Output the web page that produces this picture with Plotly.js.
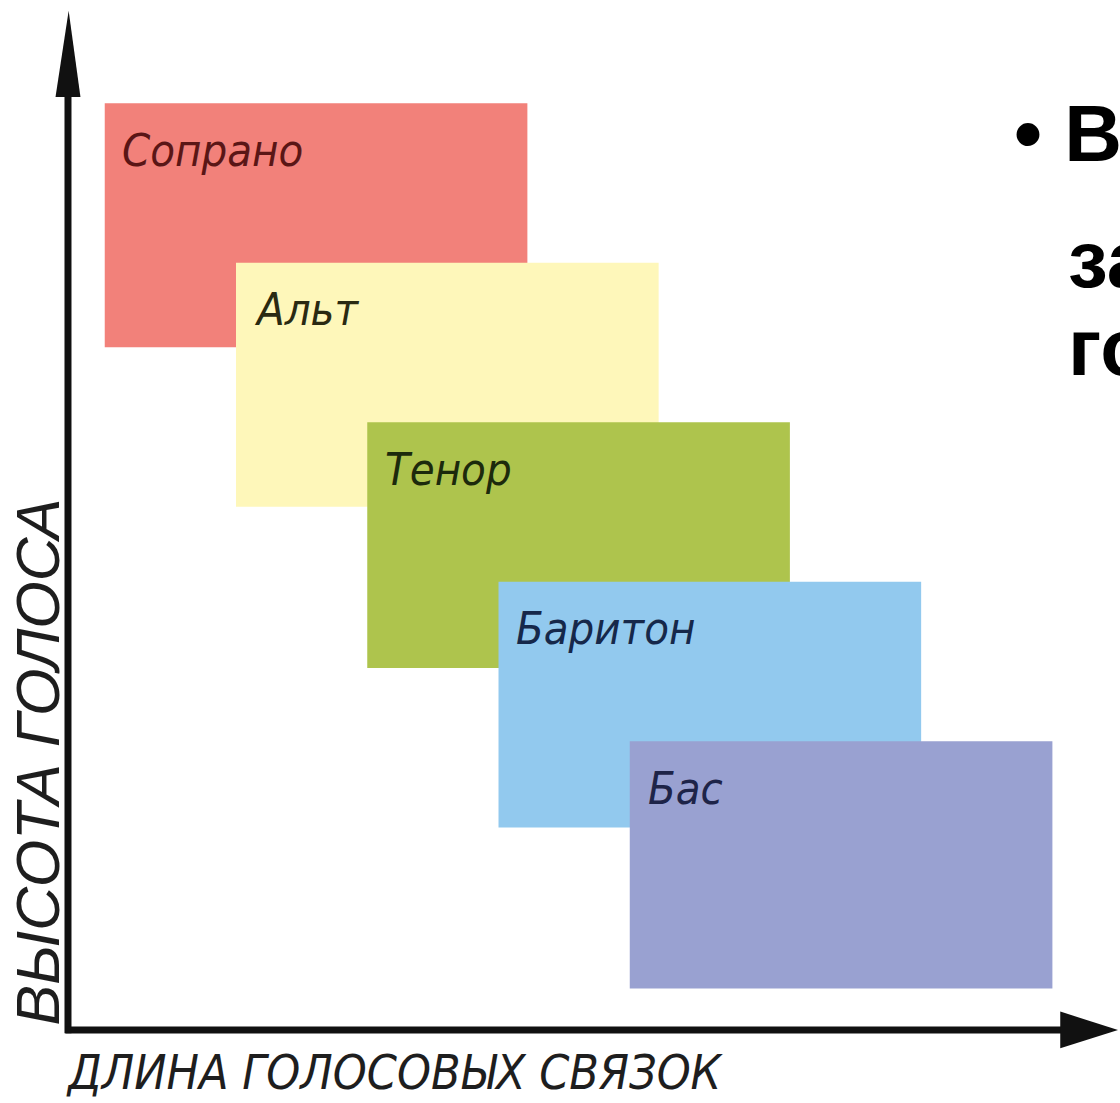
<!DOCTYPE html>
<html>
<head>
<meta charset="utf-8">
<script src="https://cdn.plot.ly/plotly-3.0.1.min.js"></script>
<style>html,body{margin:0;padding:0;background:#fff;overflow:hidden}#chart{width:1120px;height:1103px}</style>
</head>
<body>
<div id="chart"></div>
<script>
// Voice types (categories) and their ranges: x = vocal cord length, y = voice pitch (relative units)
const voices   = ['Сопрано', 'Альт', 'Тенор', 'Баритон', 'Бас'];
const lenStart = [0.28, 1.28, 2.28, 3.28, 4.28];
const lenEnd   = [3.50, 4.50, 5.50, 6.50, 7.50];
const pitchLow = [4.28, 3.28, 2.27, 1.27, 0.26];
const pitchHigh= [5.81, 4.81, 3.81, 2.81, 1.81];
const fillColors  = ['#F2817A', '#FEF7BA', '#AEC44D', '#92C9EE', '#99A1D1'];
const labelColors = ['#5a1616', '#2a2a12', '#1c2a0c', '#16284a', '#1e2448'];
const xTitle = 'ДЛИНА ГОЛОСОВЫХ СВЯЗОК';
const yTitle = 'ВЫСОТА ГОЛОСА';
const sideText = ['• В', 'за', 'го'];

const narrow = 'Liberation Sans Narrow, DejaVu Sans Condensed, Arial Narrow, sans-serif';

const traces = voices.map((v, i) => ({
  type: 'scatter', mode: 'lines', name: v,
  x: [lenStart[i], lenEnd[i], lenEnd[i], lenStart[i], lenStart[i]],
  y: [pitchLow[i], pitchLow[i], pitchHigh[i], pitchHigh[i], pitchLow[i]],
  fill: 'toself', fillcolor: fillColors[i],
  line: {width: 0, color: fillColors[i]},
  hoverinfo: 'skip', showlegend: false
}));

const annotations = voices.map((v, i) => ({
  x: lenStart[i] + 0.12, y: pitchHigh[i] - 0.295,
  xref: 'x', yref: 'y', xanchor: 'left', yanchor: 'middle',
  text: v, showarrow: false,
  font: {family: narrow, size: 45, color: labelColors[i], style: 'italic'}
}));

annotations.push({
  x: 2.49, y: -0.263, xref: 'x', yref: 'y', xanchor: 'center', yanchor: 'middle',
  text: xTitle, showarrow: false,
  font: {family: narrow, size: 48, color: '#1e1e1e', style: 'italic'}
});
annotations.push({
  x: -0.225, y: 1.68, xref: 'x', yref: 'y', xanchor: 'center', yanchor: 'middle',
  text: yTitle, showarrow: false, textangle: -90,
  font: {family: 'Liberation Sans, Arial, sans-serif', size: 61, color: '#1e1e1e', style: 'italic'}
});
const sideX = [7.19, 7.6, 7.6];
const sideY = [5.62, 4.83, 4.28];
sideText.forEach((t, i) => annotations.push({
  x: sideX[i], y: sideY[i], xref: 'x', yref: 'y', xanchor: 'left', yanchor: 'middle',
  text: t, showarrow: false,
  font: {family: 'Liberation Sans, Arial, sans-serif', size: 80, color: '#000', weight: 'bold'}
}));

const shapes = [
  // y axis line + arrowhead
  {type: 'line', xref: 'x', yref: 'y', x0: 0, x1: 0, y0: -0.02, y1: 5.9, line: {color: '#111', width: 7}},
  {type: 'path', xref: 'x', yref: 'y', path: 'M -0.095 5.85 L 0.095 5.85 L 0.005 6.39 Z', fillcolor: '#111', line: {width: 0}},
  // x axis line + arrowhead
  {type: 'line', xref: 'x', yref: 'y', x0: -0.02, x1: 7.6, y0: 0, y1: 0, line: {color: '#111', width: 7}},
  {type: 'path', xref: 'x', yref: 'y', path: 'M 7.56 0.115 L 7.56 -0.115 L 8.0 0 Z', fillcolor: '#111', line: {width: 0}}
];

const layout = {
  width: 1120, height: 1103,
  margin: {l: 0, r: 0, t: 0, b: 0},
  paper_bgcolor: '#fff', plot_bgcolor: '#fff',
  xaxis: {range: [-0.518, 8.015], visible: false, fixedrange: true},
  yaxis: {range: [-0.458, 6.458], visible: false, fixedrange: true},
  shapes: shapes, annotations: annotations, showlegend: false
};

Plotly.newPlot('chart', traces, layout, {displayModeBar: false, staticPlot: true});
</script>
</body>
</html>
